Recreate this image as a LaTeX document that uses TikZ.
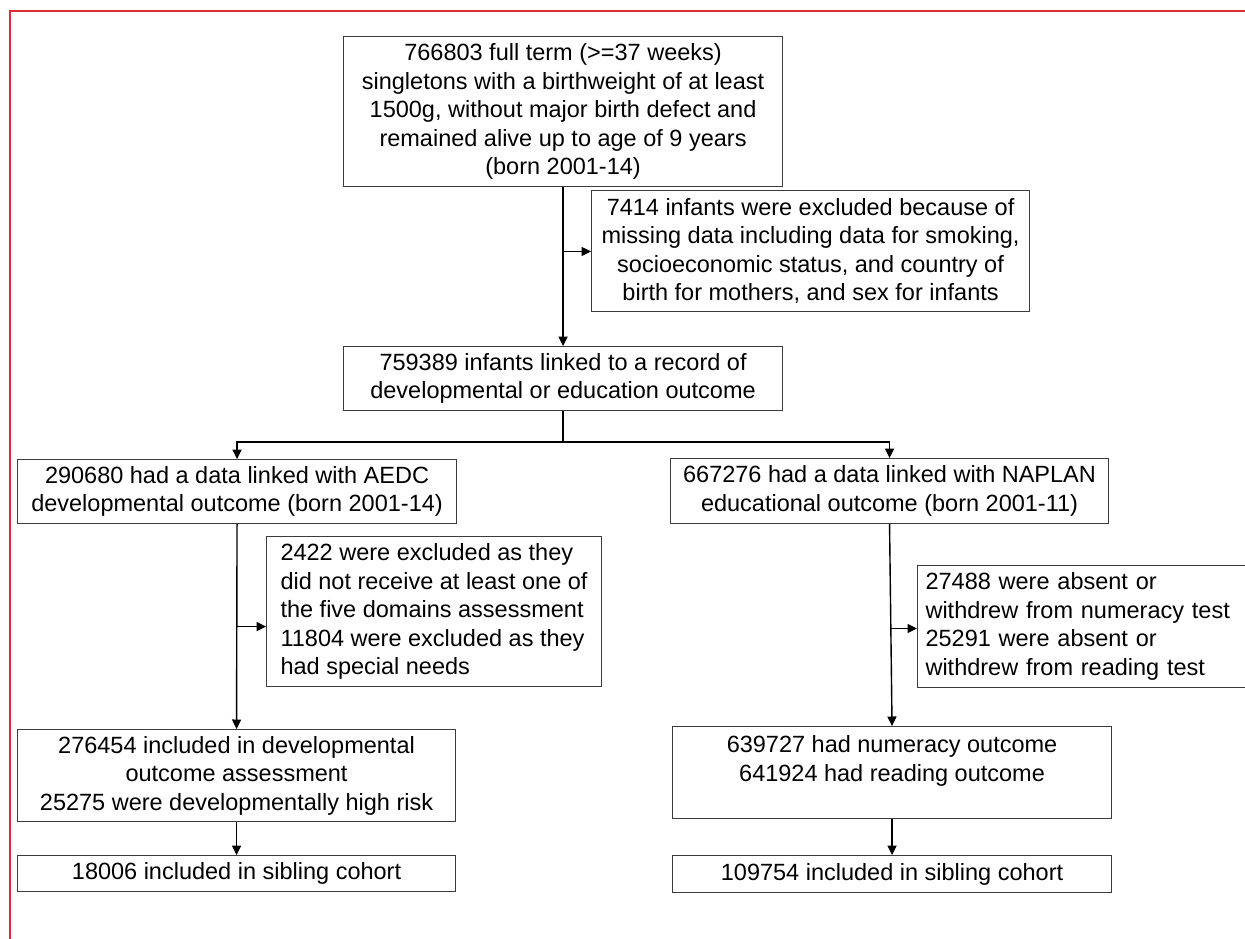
\documentclass[tikz,border=0pt]{standalone}
\usepackage{fontspec}
\setmainfont{Liberation Sans}
\usetikzlibrary{arrows.meta,calc}
\definecolor{framered}{RGB}{222,45,55}
\definecolor{boxline}{RGB}{60,60,60}
\newcommand{\fsz}{\fontsize{23.5}{28.5}\selectfont}
\tikzset{
  box/.style={draw=boxline, line width=1.1pt, inner sep=0pt, font=\fsz, align=center, anchor=north west},
  lbox/.style={box, align=left},
  conn/.style={line width=1.4pt, draw=black},
  arr/.style={conn, -{Triangle[length=9.5pt,width=9pt]}},
}
\begin{document}
\begin{tikzpicture}[x=1pt,y=-1pt]
\useasboundingbox (0,0) rectangle (1245,939);
\fill[white] (0,0) rectangle (1245,939);
\draw[framered, line width=1.5pt] (10,939) -- (10,11) -- (1245,11);

\node[box, minimum width=439, minimum height=150] (n1) at (343,36)
  {766803 full term (>=37 weeks)\\singletons with a birthweight of at least\\1500g, without major birth defect and\\remained alive up to age of 9 years\\(born 2001-14)};
\node[box, minimum width=438, minimum height=121] (n2) at (591,190)
  {7414 infants were excluded because of\\missing data including data for smoking,\\socioeconomic status, and country of\\birth for mothers, and sex for infants};
\node[box, minimum width=439, minimum height=64] (n3) at (343,346)
  {759389 infants linked to a record of\\developmental or education outcome};
\node[box, minimum width=439, minimum height=64] (n4) at (17,459)
  {290680 had a data linked with AEDC\\developmental outcome (born 2001-14)};
\node[box, minimum width=438, minimum height=65] (n5) at (670,458)
  {667276 had a data linked with NAPLAN\\educational outcome (born 2001-11)};
\node[lbox, minimum width=335, minimum height=150] (n6) at (266,536)
  {2422 were excluded as they\\did not receive at least one of\\the five domains assessment\\11804 were excluded as they\\had special needs};
\node[lbox, text width=330pt, inner xsep=8pt, minimum height=122] (n7) at (917,565)
  {27488 were absent or\\withdrew from numeracy test\\25291 were absent or\\withdrew from reading test};
\node[box, minimum width=438, minimum height=92] (n8) at (17,729)
  {276454 included in developmental\\outcome assessment\\25275 were developmentally high risk};
\node[box, minimum width=439, minimum height=92] (n9) at (672,726)
  {639727 had numeracy outcome\\641924 had reading outcome\\\mbox{}};
\node[box, minimum width=438, minimum height=36] (n10) at (17,855)
  {18006 included in sibling cohort};
\node[box, minimum width=439, minimum height=37] (n11) at (672,855)
  {109754 included in sibling cohort};

% connectors
\draw[arr] (n1.south) -- (n3.north);
\coordinate (b1) at ($(n1.south)!0.405!(n3.north)$);
\draw[arr] (b1) -- (b1 -| n2.west);

\coordinate (j) at ($(n3.south)+(0,31)$);
\draw[conn] (n3.south) -- (j);
\draw[arr] (j) -| (n4.north);
\draw[arr] (j) -| (n5.north);

\draw[arr] (n4.south) -- (n8.north);
\coordinate (b2) at ($(n4.south)!0.5!(n8.north)$);
\draw[arr] (b2) -- (b2 -| n6.west);

\draw[arr] (n5.south) -- (n9.north);
\coordinate (b3) at ($(n5.south)!0.517!(n9.north)$);
\draw[arr] (b3) -- (b3 -| n7.west);

\draw[arr] (n8.south) -- (n10.north);
\draw[arr] (n9.south) -- (n11.north);
\end{tikzpicture}
\end{document}
